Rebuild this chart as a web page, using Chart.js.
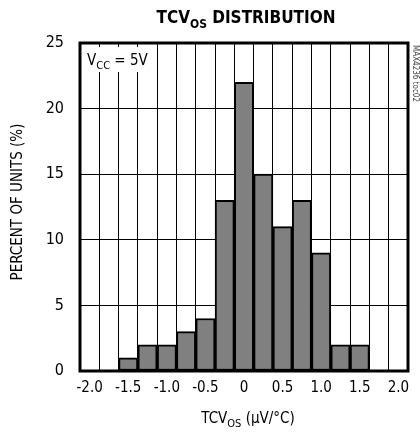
<!DOCTYPE html>
<html>
<head>
<meta charset="utf-8">
<script src="https://cdn.jsdelivr.net/npm/chart.js@4"></script>
<style>
html,body{margin:0;padding:0;background:#fff;}
#wrap{width:420px;height:435px;position:relative;}
</style>
</head>
<body>
<div id="wrap"><canvas id="c" width="420" height="435"></canvas></div>
<script>
const categories = ['-2.0','-1.75','-1.5','-1.25','-1.0','-0.75','-0.5','-0.25','0','0.25','0.5','0.75','1.0','1.25','1.5','1.75','2.0'];
const percentUnits = [0,0,1,2,2,3,4,13,22,15,11,13,9,2,2,0,0];
const xTickLabels = ['-2.0','','-1.5','','-1.0','','-0.5','','0','','0.5','','1.0','','1.5','','2.0'];
const yTicks = [0,5,10,15,20,25];

const FONT = "'Liberation Sans Narrow','DejaVu Sans Condensed','Liberation Sans',sans-serif";

function drawParts(ctx, parts, x, y, size, weight, align) {
  let w = 0;
  const fonts = parts.map(p => `${weight} ${p.sub ? Math.round(size*0.72) : size}px ${FONT}`);
  parts.forEach((p,i) => { ctx.font = fonts[i]; w += ctx.measureText(p.t).width; });
  let cx = align === 'center' ? x - w/2 : x;
  ctx.textAlign = 'left';
  ctx.textBaseline = 'alphabetic';
  parts.forEach((p,i) => {
    ctx.font = fonts[i];
    ctx.fillText(p.t, cx, p.sub ? y + size*0.28 : y);
    cx += ctx.measureText(p.t).width;
  });
  return w;
}

const decor = {
  id: 'decor',
  afterDraw(chart) {
    const ctx = chart.ctx;
    const a = chart.chartArea;
    ctx.save();
    // frame
    ctx.strokeStyle = '#000';
    ctx.lineWidth = 3;
    ctx.strokeRect(a.left, a.top, a.right - a.left, a.bottom - a.top);
    ctx.fillStyle = '#000';
    // title
    drawParts(ctx, [{t:'TCV'},{t:'OS',sub:true},{t:' DISTRIBUTION'}], 246, 23, 17, 'bold', 'center');
    // x title
    drawParts(ctx, [{t:'TCV'},{t:'OS',sub:true},{t:' (\u00B5V/\u00B0C)'}], 248, 423, 15, 'normal', 'center');
    // Vcc label
    ctx.fillStyle = '#fff';
    ctx.fillRect(a.left + 3, a.top + 4, 66, 25);
    ctx.fillStyle = '#000';
    drawParts(ctx, [{t:'V'},{t:'CC',sub:true},{t:' = 5V'}], a.left + 7, a.top + 22, 15, 'normal', 'left');
    // y title
    ctx.save();
    ctx.translate(18, 202);
    ctx.rotate(-Math.PI/2);
    ctx.font = `normal 15px ${FONT}`;
    ctx.textAlign = 'center';
    ctx.textBaseline = 'middle';
    ctx.fillText('PERCENT OF UNITS (%)', 0, 0);
    ctx.restore();
    // side note
    ctx.save();
    ctx.translate(a.right + 7, a.top + 2);
    ctx.rotate(Math.PI/2);
    ctx.font = `normal 8px ${FONT}`;
    ctx.fillStyle = '#444';
    ctx.textAlign = 'left';
    ctx.textBaseline = 'middle';
    ctx.fillText('MAX4236 toc02', 0, 0);
    ctx.restore();
    ctx.restore();
  }
};

new Chart(document.getElementById('c'), {
  type: 'bar',
  data: {
    labels: categories,
    datasets: [{
      data: percentUnits,
      backgroundColor: '#808080',
      borderColor: '#000',
      borderWidth: 2,
      borderSkipped: false,
      barPercentage: 1,
      categoryPercentage: 1
    }]
  },
  options: {
    responsive: false,
    animation: false,
    devicePixelRatio: 1,
    layout: { padding: { left: 0, top: 43, right: 12, bottom: 0 } },
    plugins: { legend: { display: false }, tooltip: { enabled: false }, title: { display: false } },
    scales: {
      x: {
        offset: true,
        grid: { offset: true, color: '#000', lineWidth: 1, drawTicks: false },
        border: { display: false },
        ticks: {
          autoSkip: false, maxRotation: 0, minRotation: 0, padding: 8,
          color: '#000', font: { family: FONT, size: 15 },
          callback: (v, i) => xTickLabels[i]
        },
        afterFit: s => { s.height = 64; }
      },
      y: {
        min: 0, max: 25,
        afterBuildTicks: s => { s.ticks = yTicks.map(v => ({ value: v })); },
        grid: { color: '#000', lineWidth: 1, drawTicks: false },
        border: { display: false },
        ticks: { padding: 16, color: '#000', font: { family: FONT, size: 16 } },
        afterFit: s => { s.width = 80; }
      }
    }
  },
  plugins: [decor]
});
</script>
</body>
</html>
